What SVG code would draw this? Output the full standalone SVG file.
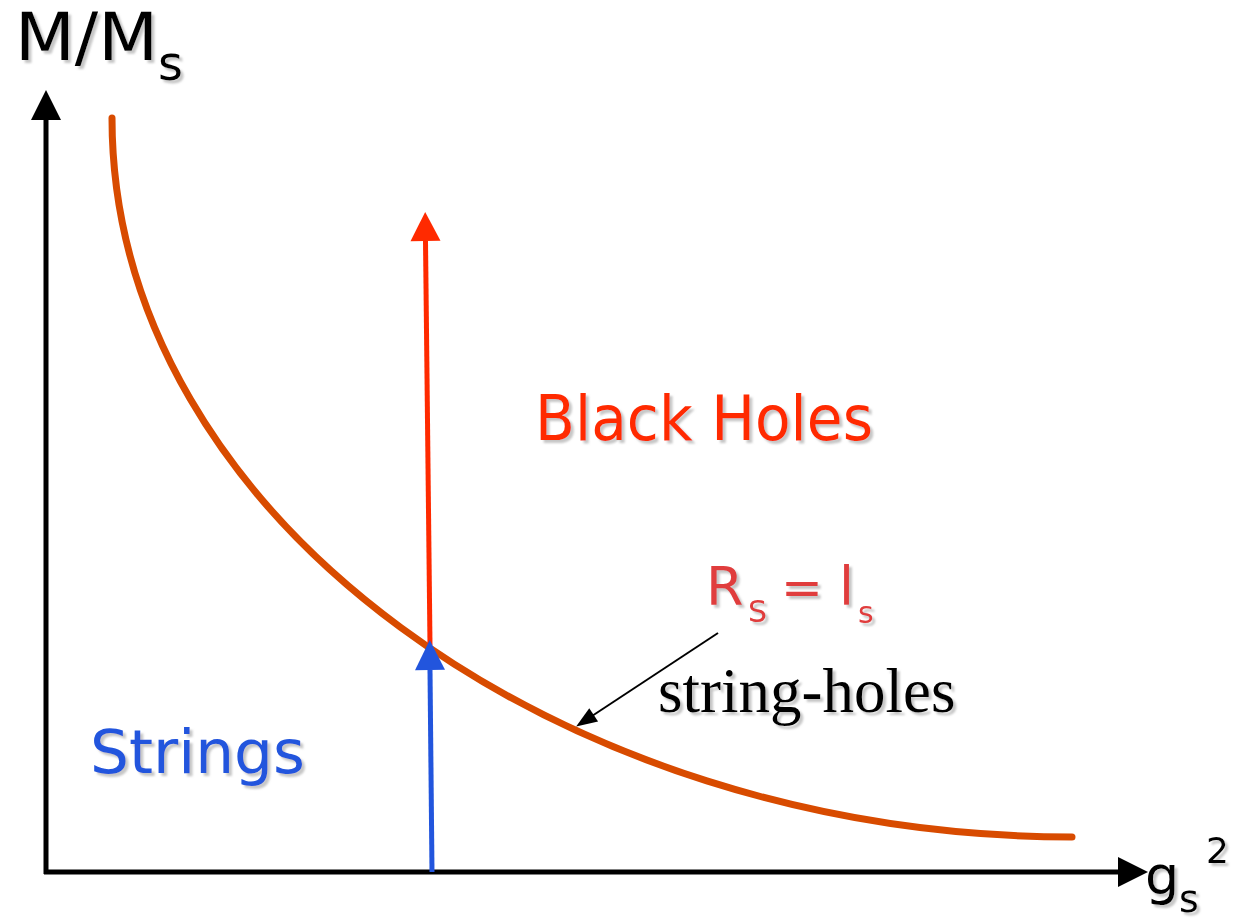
<svg xmlns="http://www.w3.org/2000/svg" width="1234" height="921" viewBox="0 0 1234 921">
  <style>
    .comic { font-family: "DejaVu Sans", "Noto Sans", sans-serif; }
    .serif { font-family: "Liberation Serif", "Times New Roman", serif; }
    .shadow { filter: url(#sh); }
    .axis { stroke: #000; stroke-width: 5; fill: none; }
  </style>
  <defs>
    <filter id="sh" x="-10%" y="-10%" width="130%" height="140%">
      <feDropShadow dx="3" dy="3" stdDeviation="1" flood-color="#999" flood-opacity="0.55"/>
    </filter>
    <marker id="hk" markerUnits="userSpaceOnUse" markerWidth="32" markerHeight="32" refX="0" refY="15" orient="auto" overflow="visible">
      <path d="M0,0 L30,15 L0,30 z" fill="#000"/>
    </marker>
    <marker id="hr" markerUnits="userSpaceOnUse" markerWidth="32" markerHeight="32" refX="0" refY="15" orient="auto" overflow="visible">
      <path d="M0,0 L29,15 L0,30 z" fill="#FF2A00"/>
    </marker>
    <marker id="hb" markerUnits="userSpaceOnUse" markerWidth="32" markerHeight="32" refX="0" refY="15" orient="auto" overflow="visible">
      <path d="M0,0 L30,15 L0,30 z" fill="#2255DD"/>
    </marker>
    <marker id="hs" markerUnits="userSpaceOnUse" markerWidth="24" markerHeight="18" refX="2" refY="8" orient="auto" overflow="visible">
      <path d="M0,0 L21,8 L0,16 z" fill="#000"/>
    </marker>
  </defs>
  <rect width="1234" height="921" fill="#fff"/>

  <g id="axes">
    <line class="axis" x1="46" y1="874" x2="46" y2="120" marker-end="url(#hk)"/>
    <line class="axis" x1="44" y1="872" x2="1118" y2="872" marker-end="url(#hk)"/>
  </g>

  <g id="curve">
    <path d="M112,118 C112,518 562,837 1072,837" fill="none" stroke="#D84B00" stroke-width="7" stroke-linecap="round"/>
  </g>

  <g id="connectors">
    <line x1="430" y1="645" x2="425.5" y2="241" stroke="#FF2A00" stroke-width="5" marker-end="url(#hr)"/>
    <line x1="432" y1="872" x2="430" y2="670" stroke="#2255DD" stroke-width="5" marker-end="url(#hb)"/>
    <line x1="718" y1="633" x2="592" y2="716" stroke="#000" stroke-width="2" marker-end="url(#hs)"/>
  </g>

  <g id="label-y" class="comic shadow">
    <text x="15" y="60" font-size="66" fill="#000"><tspan textLength="143" lengthAdjust="spacingAndGlyphs">M/M</tspan><tspan x="158" y="80" font-size="48">s</tspan></text>
  </g>

  <g id="label-x" class="comic shadow">
    <text x="1145" y="894" font-size="54" fill="#000">g<tspan x="1179" y="912" font-size="38">s</tspan><tspan x="1206" y="863" font-size="36">2</tspan></text>
  </g>

  <g id="black-holes" class="comic shadow">
    <text x="535" y="440" font-size="62" fill="#FF2A00" textLength="338" lengthAdjust="spacingAndGlyphs">Black Holes</text>
  </g>

  <g id="strings" class="comic shadow">
    <text x="90" y="773" font-size="60" fill="#2255DD" textLength="215" lengthAdjust="spacingAndGlyphs">Strings</text>
  </g>

  <g id="rs-ls" class="comic shadow">
    <text x="706" y="605" font-size="54" fill="#E03C3C">R<tspan x="748" y="622" font-size="30">S</tspan><tspan x="781" y="605" font-size="50">=</tspan><tspan x="839" y="605">l</tspan><tspan x="858" y="623" font-size="30">s</tspan></text>
  </g>

  <g id="string-holes" class="serif shadow">
    <text x="658" y="712" font-size="63" fill="#000">string-holes</text>
  </g>
</svg>
